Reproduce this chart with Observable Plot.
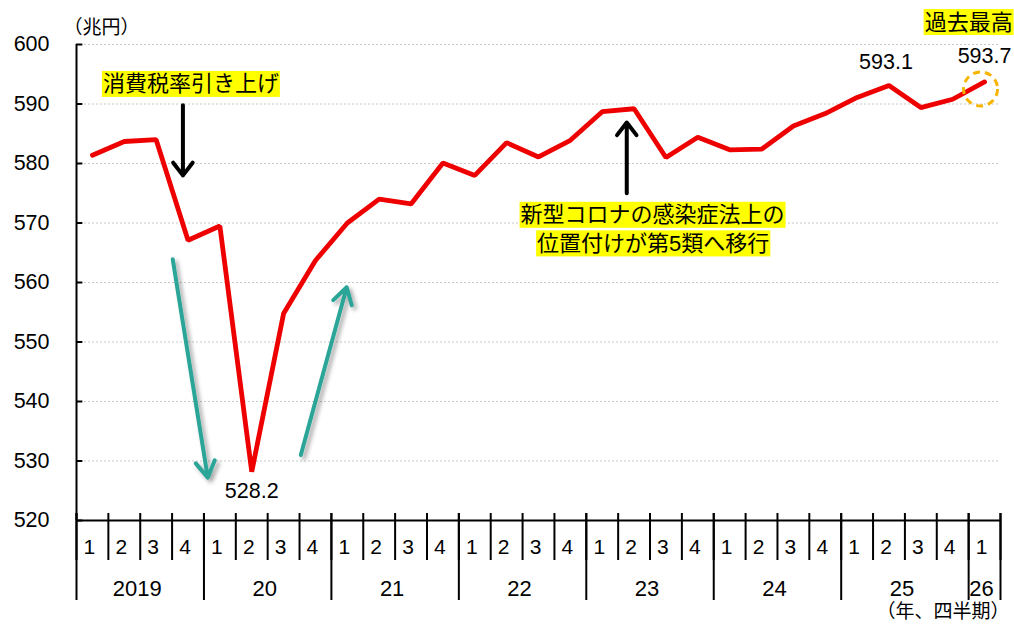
<!DOCTYPE html>
<html><head><meta charset="utf-8">
<script src="https://cdn.jsdelivr.net/npm/d3@7"></script>
<script src="https://cdn.jsdelivr.net/npm/@observablehq/plot@0.6"></script>
<style>html,body{margin:0;padding:0;background:#fff;}</style>
</head><body><div id="chart"></div>
<script>
// ---- data ----
const quarterLabels = ["1","2","3","4","1","2","3","4","1","2","3","4","1","2","3","4","1","2","3","4","1","2","3","4","1","2","3","4","1"];
const yearLabels = ["2019","20","21","22","23","24","25","26"];
const quartersPerYear = [4,4,4,4,4,4,4,1];
const values = [581.4,583.7,584.0,567.1, 569.5,528.2,554.8,563.7, 570.0,574.0,573.2,580.1,
                578.0,583.5,581.1,583.9, 588.7,589.2,581.0,584.4, 582.3,582.4,586.3,588.4,
                591.1,593.1,589.4,590.8, 593.7];
const yTicks = [520,530,540,550,560,570,580,590,600];
const unitLabel = "（兆円）";
const xUnitLabel = "（年、四半期）";
// annotations (x in quarter index units, y in 兆円)
const notes = [
  {x: 3.59, y: 593.3, text: "消費税率引き上げ"},
  {x: 18.08, y: 571.3, text: "新型コロナの感染症法上の"},
  {x: 18.1, y: 566.5, text: "位置付けが第5類へ移行"},
  {x: 28.0, y: 603.7, text: "過去最高"}
];
const blackArrows = [
  {x1: 3.34, y1: 589.8, x2: 3.34, y2: 578.0},
  {x1: 17.27, y1: 575.0, x2: 17.27, y2: 586.9}
];
const tealArrows = [
  {x1: 3.02, y1: 563.9, x2: 4.12, y2: 527.2},
  {x1: 7.04, y1: 531.0, x2: 8.48, y2: 559.2}
];

// ---- derived tables ----
const series = values.map((v, i) => ({i: i + 0.5, v}));
const qData = quarterLabels.map((q, i) => ({i: i + 0.5, q}));
const bounds = [0];
quartersPerYear.forEach(n => bounds.push(bounds[bounds.length - 1] + n));
const yData = yearLabels.map((y, k) => ({x: (bounds[k] + bounds[k + 1]) / 2, y}));
const n = values.length;
const last = series[n - 1];
const peak = series[25];
const trough = series[5];
const teal = "#2aa597";

const font = "'Liberation Sans', Arial, 'Noto Sans CJK JP', sans-serif";

const chart = Plot.plot({
  width: 1014, height: 628,
  marginLeft: 76, marginRight: 14, marginTop: 44, marginBottom: 108,
  x: {domain: [0, n]},
  y: {domain: [520, 600]},
  style: {fontFamily: font, background: "#fff", color: "#000", overflow: "visible"},
  marks: [
    // grid
    Plot.ruleY(yTicks.slice(1), {x1: 0, x2: n, stroke: "#c8c8c8", strokeWidth: 1, strokeDasharray: "2,2"}),
    // y ticks (inward)
    Plot.ruleY(yTicks, {x1: 0, x2: 0.2, stroke: "#000", strokeWidth: 2}),
    Plot.axisY(yTicks, {tickSize: 0, tickPadding: 27, fontSize: 21.5, label: null}),
    // axis lines
    Plot.ruleX([0], {y1: 520, y2: 600, stroke: "#000", strokeWidth: 2}),
    Plot.ruleY([520], {x1: 0, x2: n, stroke: "#000", strokeWidth: 2}),
    // quarter separators & year separators
    Plot.axisX(d3.range(n + 1), {tickSize: 47, dy: -7, tickFormat: () => "", stroke: "#000", strokeWidth: 2, label: null}),
    Plot.axisX(bounds, {tickSize: 87, dy: -7, tickFormat: () => "", stroke: "#000", strokeWidth: 2, label: null}),
    Plot.text(qData, {x: "i", y: () => 520, text: "q", dy: 27, dx: -3, fontSize: 21}),
    Plot.text(yData, {x: "x", y: () => 520, text: "y", dy: 68, dx: -3, fontSize: 22}),
    Plot.text([xUnitLabel], {frameAnchor: "bottom-right", text: d => d, textAnchor: "end", dx: 9, dy: 97, fontSize: 19}),
    Plot.text([unitLabel], {frameAnchor: "top-left", text: d => d, textAnchor: "start", dx: -13, dy: -24, fontSize: 19}),
    // line
    Plot.line(series, {x: "i", y: "v", stroke: "#ee0000", strokeWidth: 4.8, strokeLinejoin: "miter"}),
    // circle
    Plot.dot([last], {x: "i", y: "v", r: 17, dx: -4, dy: 7, stroke: "#f7b500", strokeWidth: 3, strokeDasharray: "7,5", fill: "none"}),
    // value labels
    Plot.text([trough], {x: "i", y: "v", text: d => d.v.toFixed(1), dy: 19, fontSize: 21.5}),
    Plot.text([peak], {x: "i", y: "v", text: d => d.v.toFixed(1), dy: -23, dx: -3, fontSize: 21.5}),
    Plot.text([last], {x: "i", y: "v", text: d => d.v.toFixed(1), dy: -26, fontSize: 21.5}),
    // arrows
    Plot.arrow(blackArrows, {x1: "x1", y1: "y1", x2: "x2", y2: "y2", stroke: "#000", strokeWidth: 4, headLength: 6, headAngle: 75}),
    Plot.arrow(tealArrows, {x1: "x1", y1: "y1", x2: "x2", y2: "y2", stroke: teal, strokeWidth: 4, headLength: 7, headAngle: 62}),
    // annotations
    Plot.text(notes, {x: "x", y: "y", text: "text", fontSize: 22, fill: "#000"})
  ]
});

const holder = document.getElementById("chart");
holder.append(chart);
const svg = chart.tagName.toLowerCase() === "svg" ? chart : chart.querySelector("svg");
const ns = "http://www.w3.org/2000/svg";
const defs = document.createElementNS(ns, "defs");
defs.innerHTML = '<filter id="sh" x="-50%" y="-50%" width="200%" height="200%"><feDropShadow dx="3" dy="3" stdDeviation="2" flood-color="#000" flood-opacity="0.35"/></filter>';
svg.insertBefore(defs, svg.firstChild);
svg.querySelectorAll("g").forEach(g => {
  if ((g.getAttribute("stroke") || "").toLowerCase() === teal) g.setAttribute("filter", "url(#sh)");
});
const noteTexts = new Set(notes.map(d => d.text));
svg.querySelectorAll("text").forEach(t => {
  if (!noteTexts.has(t.textContent)) return;
  const b = t.getBBox();
  const r = document.createElementNS(ns, "rect");
  const cy = b.y + b.height / 2;
  r.setAttribute("x", b.x - 1);
  r.setAttribute("width", b.width + 2);
  r.setAttribute("y", cy - 13);
  r.setAttribute("height", 26);
  r.setAttribute("fill", "#ffff00");
  if (t.getAttribute("transform")) r.setAttribute("transform", t.getAttribute("transform"));
  t.parentNode.insertBefore(r, t);
});
</script></body></html>
